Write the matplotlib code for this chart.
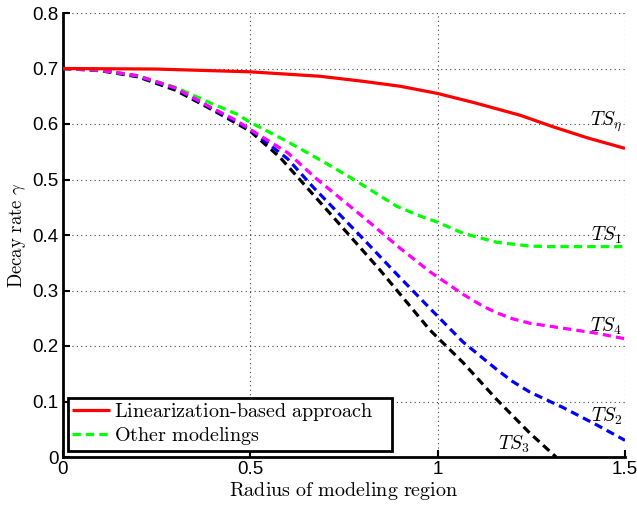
import matplotlib
matplotlib.use("Agg")
import matplotlib.pyplot as plt
from matplotlib.patches import Rectangle

plt.rcParams['mathtext.fontset'] = 'cm'
plt.rcParams['font.family'] = ['Liberation Sans', 'DejaVu Sans']

# Data
x_red = [0.0, 0.25, 0.5, 0.686, 0.8, 0.9, 1.0, 1.1, 1.219, 1.308, 1.4, 1.5]
y_red = [0.700, 0.699, 0.694, 0.686, 0.677, 0.668, 0.655, 0.638, 0.616, 0.595, 0.575, 0.556]

x_ts1 = [0.0, 0.1, 0.2, 0.3, 0.4, 0.4635, 0.5, 0.6, 0.7, 0.761, 0.8, 0.85, 0.89, 0.95, 1.0, 1.068, 1.157, 1.246, 1.3, 1.4, 1.5]
y_ts1 = [0.700, 0.697, 0.687, 0.666, 0.636, 0.618, 0.603, 0.568, 0.530, 0.506, 0.490, 0.469, 0.452, 0.435, 0.423, 0.403, 0.387, 0.380, 0.379, 0.379, 0.379]

x_ts4 = [0.0, 0.1, 0.2, 0.3, 0.392, 0.4635, 0.5, 0.6, 0.677, 0.8, 0.9, 0.979, 1.068, 1.12, 1.157, 1.2, 1.246, 1.335, 1.424, 1.5]
y_ts4 = [0.700, 0.697, 0.687, 0.665, 0.631, 0.606, 0.590, 0.548, 0.501, 0.433, 0.376, 0.334, 0.293, 0.272, 0.260, 0.249, 0.241, 0.232, 0.223, 0.213]

x_ts2 = [0.0, 0.1, 0.2, 0.3, 0.4, 0.5, 0.6, 0.668, 0.8, 0.89, 0.979, 1.068, 1.157, 1.2, 1.246, 1.335, 1.424, 1.5]
y_ts2 = [0.700, 0.697, 0.686, 0.664, 0.627, 0.590, 0.537, 0.486, 0.394, 0.330, 0.268, 0.207, 0.158, 0.136, 0.117, 0.089, 0.058, 0.030]

x_ts3 = [0.0, 0.1, 0.2, 0.3, 0.4, 0.5, 0.579, 0.7125, 0.846, 0.979, 1.068, 1.157, 1.246, 1.316]
y_ts3 = [0.700, 0.696, 0.685, 0.661, 0.625, 0.587, 0.540, 0.439, 0.337, 0.229, 0.170, 0.104, 0.043, 0.0]

labels = [r'$TS_\eta$', r'$TS_1$', r'$TS_4$', r'$TS_2$', r'$TS_3$']
label_pos = [(1.492, 0.603), (1.492, 0.400), (1.492, 0.236), (1.492, 0.074), (1.246, 0.023)]

xticks = [0, 0.5, 1, 1.5]
xtick_labels = ['0', '0.5', '1', '1.5']
yticks = [0, 0.1, 0.2, 0.3, 0.4, 0.5, 0.6, 0.7, 0.8]
ytick_labels = ['0', '0.1', '0.2', '0.3', '0.4', '0.5', '0.6', '0.7', '0.8']

fig = plt.figure(figsize=(6.37, 5.05), dpi=100)
ax = fig.add_axes([63/637, 48/505, 562/637, 444/505])

dash = (2.6, 1.6)
lw = 2.3
ax.plot(x_red, y_red, color='#ff0000', lw=lw, solid_capstyle='butt',
        label=r'$\mathrm{Linearization\text{-}based\ approach}$', zorder=5)
ax.plot(x_ts1, y_ts1, color='#00ff00', lw=lw, dashes=dash, label=r'$\mathrm{Other\ modelings}$', zorder=4)
ax.plot(x_ts3, y_ts3, color='black', lw=lw, dashes=dash, zorder=3)
ax.plot(x_ts2, y_ts2, color='#0000ff', lw=lw, dashes=dash, zorder=3)
ax.plot(x_ts4, y_ts4, color='#ff00ff', lw=lw, dashes=dash, zorder=4)

for (tx, ty), lab in zip(label_pos, labels):
    ax.text(tx, ty, lab, fontsize=14, ha='right', va='center', zorder=6)

ax.set_xlim(0, 1.5)
ax.set_ylim(0, 0.8)
ax.set_xticks(xticks)
ax.set_xticklabels(xtick_labels)
ax.set_yticks(yticks)
ax.set_yticklabels(ytick_labels)
ax.tick_params(direction='in', length=5, width=1.5, labelsize=13.5, pad=3)
ax.grid(True, linestyle=(0, (1, 3)), color='0.25', lw=0.8)
for s in ['top', 'right']:
    ax.spines[s].set_visible(False)
for s in ['left', 'bottom']:
    ax.spines[s].set_linewidth(2)

ax.set_xlabel(r'$\mathrm{Radius\ of\ modeling\ region}$', fontsize=14.5, labelpad=1)
ax.set_ylabel(r'$\mathrm{Decay\ rate}\ \gamma$', fontsize=13.5, labelpad=3)

# legend box (white background + black frame), wider than the default frame
box = Rectangle((5/562, 6/444), 324/562, 53/444, transform=ax.transAxes,
                facecolor='white', edgecolor='black', lw=2, zorder=9, clip_on=False)
ax.add_patch(box)
leg = ax.legend(loc='lower left', bbox_to_anchor=(0.009, 0.0135), borderaxespad=0,
                fontsize=14.5, handlelength=1.9, handletextpad=0.2, frameon=False,
                borderpad=0.2, labelspacing=0.1)
leg.set_zorder(10)

fig.savefig('out.png', dpi=100)
